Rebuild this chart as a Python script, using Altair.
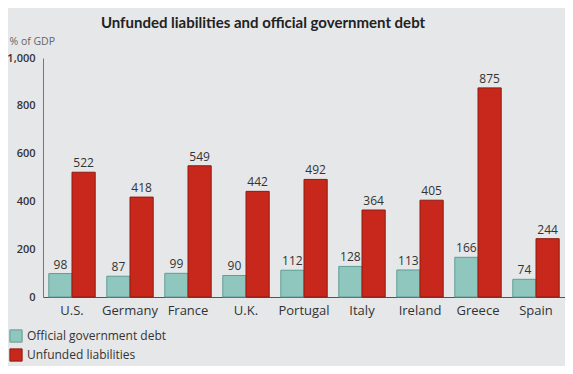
import altair as alt
import pandas as pd

countries = ["U.S.", "Germany", "France", "U.K.", "Portugal", "Italy", "Ireland", "Greece", "Spain"]
official_debt = [98, 87, 99, 90, 112, 128, 113, 166, 74]
unfunded = [522, 418, 549, 442, 492, 364, 405, 875, 244]
series_names = ["Official government debt", "Unfunded liabilities"]
y_ticks = [0, 200, 400, 600, 800, 1000]

rows = []
for c, a, b in zip(countries, official_debt, unfunded):
    rows.append({"country": c, "series": series_names[0], "value": a})
    rows.append({"country": c, "series": series_names[1], "value": b})
df = pd.DataFrame(rows)

FONT = "Open Sans"
BG = "#e6e7e9"

x = alt.X("country:N", sort=countries, title=None,
          scale=alt.Scale(paddingInner=0.2, paddingOuter=0.1),
          axis=alt.Axis(labelAngle=0, ticks=False, labelPadding=7, labelFontSize=13,
                        labelColor="#333333", domainColor="#555555", labelFont=FONT))
xo = alt.XOffset("series:N", sort=series_names)
y = alt.Y("value:Q", scale=alt.Scale(domain=[0, 1000]), title="% of GDP",
          axis=alt.Axis(values=y_ticks, format=",d", ticks=False, grid=False, labelPadding=8,
                        labelFontSize=11, labelFontWeight=600, labelColor="#333333",
                        domainColor="#777777", labelFont=FONT,
                        titleAngle=0, titleX=-34, titleY=-12, titleAlign="left",
                        titleFontWeight="normal", titleFontSize=10.5, titleColor="#666666",
                        titleFont=FONT))

color = alt.Color("series:N", sort=series_names,
                  scale=alt.Scale(domain=series_names, range=["#8fc6bd", "#c8281b"]),
                  legend=alt.Legend(title=None, orient="none", legendX=-34, legendY=271,
                                    symbolType="square", symbolSize=150, symbolStrokeWidth=1,
                                    symbolStrokeColor="#555555", labelFontSize=12,
                                    labelColor="#333333", labelFont=FONT, rowPadding=1,
                                    labelOffset=4))
stroke = alt.Stroke("series:N", sort=series_names,
                    scale=alt.Scale(domain=series_names, range=["#5f9d95", "#8f1a10"]),
                    legend=None)

bars = alt.Chart(df).mark_bar(strokeWidth=1).encode(x=x, xOffset=xo, y=y, color=color, stroke=stroke)
labels = alt.Chart(df).mark_text(dy=-9, fontSize=12, color="#333333", font=FONT).encode(
    x=x, xOffset=xo, y=y, text="value:Q")

chart = (bars + labels).properties(
    width=522, height=239,
    autosize=alt.AutoSizeParams(type="none"),
    padding={"left": 35, "top": 50, "right": 0, "bottom": 69},
    title=alt.TitleParams("Unfunded liabilities and official government debt",
                          anchor="middle", dx=-41, offset=5, fontSize=15,
                          fontWeight="bold", font="Lato", color="#222222"),
    background=BG,
).configure_view(stroke=None)

chart.save("out.html", embed_options={"renderer": "svg", "actions": False})
